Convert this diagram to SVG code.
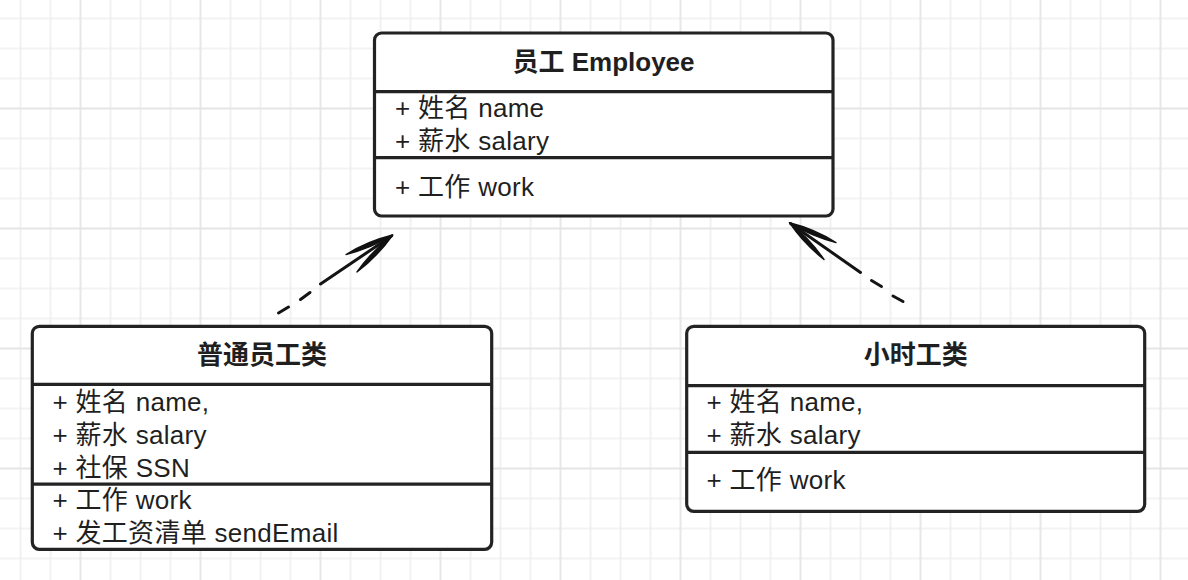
<svg xmlns="http://www.w3.org/2000/svg" width="1188" height="580" viewBox="0 0 1188 580">
  <style>
    .box { fill: #ffffff; stroke: #232323; stroke-width: 3.2; }
    .div { stroke: #232323; stroke-width: 3.2; fill: none; }
    .title { font-family: "Liberation Sans", "Noto Sans CJK SC", sans-serif; font-size: 26px; font-weight: bold; fill: #1f1f1f; text-anchor: middle; }
    .item { font-family: "Liberation Sans", "Noto Sans CJK SC", sans-serif; font-size: 26px; letter-spacing: 0.3px; fill: #1f1f1f; }
    .dash { stroke: #141414; stroke-width: 3; stroke-linecap: round; fill: none; }
    .barb { fill: #111111; stroke: #111111; stroke-width: 1.4; stroke-linejoin: round; }
  </style>
  <defs>
    <pattern id="grid" patternUnits="userSpaceOnUse" x="5.5" y="3.5" width="120" height="120">
      <path d="M15 0V120M45 0V120M105 0V120M0 15H120M0 45H120M0 75H120" stroke="#efefef" stroke-width="1.7" fill="none"/>
      <path d="M75 0V120M0 105H120" stroke="#e6e4e6" stroke-width="1.8" fill="none"/>
    </pattern>
  </defs>
  <rect x="0" y="0" width="1188" height="580" fill="#ffffff"/>
  <rect x="0" y="0" width="1188" height="580" fill="url(#grid)"/>

  <g id="connectors">
    <g id="edge-regular-employee">
      <line class="dash" x1="278.5" y1="313" x2="288.5" y2="307"/>
      <line class="dash" x1="300.5" y1="299.5" x2="310" y2="292.5"/>
      <line class="dash" x1="320.5" y1="284" x2="391.5" y2="236"/>
      <path class="barb" d="M392.7 235 Q367.8 241.1 346 254.5 Q370.9 248.4 392.7 235 Z"/>
      <path class="barb" d="M392.7 235 Q372 250.7 357 272 Q377.7 256.3 392.7 235 Z"/>
    </g>
    <g id="edge-hourly-employee">
      <line class="dash" x1="903" y1="301.5" x2="893" y2="296"/>
      <line class="dash" x1="881.5" y1="286.5" x2="871.5" y2="280.5"/>
      <line class="dash" x1="860.5" y1="272.5" x2="790.5" y2="223.5"/>
      <path class="barb" d="M789.5 222.7 Q811.2 236.3 836 242.5 Q814.3 228.9 789.5 222.7 Z"/>
      <path class="barb" d="M789.5 222.7 Q803.8 243.8 824 259.5 Q809.7 238.4 789.5 222.7 Z"/>
    </g>
  </g>

  <g id="employee">
    <rect class="box" x="374.5" y="33" width="458.5" height="183" rx="7"/>
    <line class="div" x1="374.5" y1="91.7" x2="833" y2="91.7"/>
    <line class="div" x1="374.5" y1="157.7" x2="833" y2="157.7"/>
    <text class="title" x="603.5" y="71">员工 Employee</text>
    <text class="item" x="395" y="117">+ 姓名 name</text>
    <text class="item" x="395" y="149.5">+ 薪水 salary</text>
    <text class="item" x="395" y="196">+ 工作 work</text>
  </g>

  <g id="regular-employee">
    <rect class="box" x="32.3" y="326.3" width="459.4" height="223" rx="7"/>
    <line class="div" x1="32.3" y1="384.3" x2="491.7" y2="384.3"/>
    <line class="div" x1="32.3" y1="484.2" x2="491.7" y2="484.2"/>
    <text class="title" x="262" y="364">普通员工类</text>
    <text class="item" x="52.5" y="410.5">+ 姓名 name,</text>
    <text class="item" x="52.5" y="443.5">+ 薪水 salary</text>
    <text class="item" x="52.5" y="476.5">+ 社保 SSN</text>
    <text class="item" x="52.5" y="509">+ 工作 work</text>
    <text class="item" x="52.5" y="542">+ 发工资清单 sendEmail</text>
  </g>

  <g id="hourly-employee">
    <rect class="box" x="686.7" y="326.3" width="458" height="185" rx="7"/>
    <line class="div" x1="686.7" y1="385.7" x2="1144.7" y2="385.7"/>
    <line class="div" x1="686.7" y1="452.3" x2="1144.7" y2="452.3"/>
    <text class="title" x="915.7" y="364">小时工类</text>
    <text class="item" x="706.5" y="410.5">+ 姓名 name,</text>
    <text class="item" x="706.5" y="443.5">+ 薪水 salary</text>
    <text class="item" x="706.5" y="488.5">+ 工作 work</text>
  </g>
</svg>
